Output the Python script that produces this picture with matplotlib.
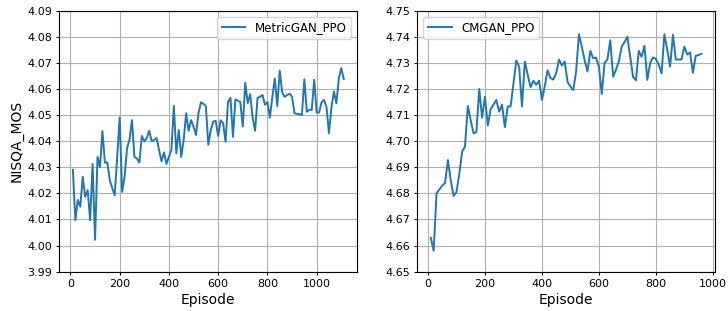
import numpy as np
import matplotlib
matplotlib.use("Agg")
import matplotlib.pyplot as plt

# MetricGAN_PPO (left)
episodes_left = list(range(10, 1111, 10))
nisqa_metricgan = [
    4.0290, 4.0097, 4.0175, 4.0149, 4.0264, 4.0187, 4.0213, 4.0097, 4.0313, 4.0022,
    4.0340, 4.0300, 4.0439, 4.0318, 4.0318, 4.0250, 4.0220, 4.0193, 4.0340, 4.0491,
    4.0206, 4.0264, 4.0373, 4.0406, 4.0481, 4.0340, 4.0334, 4.0318, 4.0420, 4.0399,
    4.0412, 4.0440, 4.0400, 4.0405, 4.0412, 4.0366, 4.0323, 4.0357, 4.0313, 4.0340,
    4.0366, 4.0535, 4.0353, 4.0443, 4.0340, 4.0405, 4.0507, 4.0440, 4.0481, 4.0456,
    4.0424, 4.0507, 4.0549, 4.0543, 4.0535, 4.0386, 4.0443, 4.0475, 4.0478, 4.0420,
    4.0480, 4.0470, 4.0398, 4.0551, 4.0566, 4.0417, 4.0560, 4.0555, 4.0550, 4.0456,
    4.0624, 4.0546, 4.0580, 4.0490, 4.0440, 4.0566, 4.0570, 4.0577, 4.0540, 4.0550,
    4.0490, 4.0570, 4.0640, 4.0535, 4.0670, 4.0587, 4.0570, 4.0577, 4.0582, 4.0570,
    4.0507, 4.0505, 4.0504, 4.0500, 4.0637, 4.0513, 4.0520, 4.0520, 4.0635, 4.0510,
    4.0510, 4.0550, 4.0558, 4.0530, 4.0430, 4.0530, 4.0590, 4.0545, 4.0640, 4.0680,
    4.0638,
]

# CMGAN_PPO (right)
episodes_right = list(range(10, 961, 10))
nisqa_cmgan = [
    4.6630, 4.6580, 4.6800, 4.6815, 4.6830, 4.6840, 4.6928, 4.6850, 4.6790, 4.6805,
    4.6875, 4.6960, 4.6980, 4.7135, 4.7080, 4.7030, 4.7035, 4.7200, 4.7090, 4.7170,
    4.7060, 4.7123, 4.7140, 4.7158, 4.7113, 4.7140, 4.7054, 4.7133, 4.7133, 4.7220,
    4.7309, 4.7286, 4.7133, 4.7305, 4.7255, 4.7207, 4.7232, 4.7216, 4.7232, 4.7158,
    4.7210, 4.7272, 4.7242, 4.7236, 4.7260, 4.7313, 4.7290, 4.7305, 4.7227, 4.7210,
    4.7196, 4.7267, 4.7410, 4.7362, 4.7310, 4.7267, 4.7346, 4.7318, 4.7320, 4.7286,
    4.7181, 4.7300, 4.7313, 4.7387, 4.7247, 4.7274, 4.7305, 4.7362, 4.7380, 4.7400,
    4.7323, 4.7247, 4.7233, 4.7346, 4.7323, 4.7366, 4.7235, 4.7300, 4.7321, 4.7315,
    4.7293, 4.7260, 4.7410, 4.7350, 4.7286, 4.7408, 4.7313, 4.7313, 4.7313, 4.7362,
    4.7332, 4.7340, 4.7262, 4.7327, 4.7330, 4.7335,
]

ylim_left = (3.99, 4.09)
ylim_right = (4.65, 4.75)
xticks = [0, 200, 400, 600, 800, 1000]

fig = plt.figure(figsize=(7.28, 3.11), dpi=100)
ax1 = fig.add_axes([0.0815, 0.1264, 0.4093, 0.8392])
ax2 = fig.add_axes([0.5732, 0.1264, 0.4089, 0.8392])

color = "#1f77b4"
ax1.plot(episodes_left, nisqa_metricgan, color=color, lw=1.4, label="MetricGAN_PPO")
ax2.plot(episodes_right, nisqa_cmgan, color=color, lw=1.4, label="CMGAN_PPO")

for ax, ylim in ((ax1, ylim_left), (ax2, ylim_right)):
    ax.set_ylim(*ylim)
    ax.set_yticks(np.round(np.arange(ylim[0], ylim[1] + 0.0001, 0.01), 2))
    ax.yaxis.set_major_formatter(matplotlib.ticker.FormatStrFormatter("%.2f"))
    ax.set_xticks(xticks)
    ax.grid(True, color="#b0b0b0", lw=0.8)
    ax.tick_params(labelsize=8, length=2.5, pad=2.5, width=0.7)
    for s in ax.spines.values():
        s.set_linewidth(0.8)
    ax.set_xlabel("Episode", fontsize=10, labelpad=3)

ax1.set_ylabel("NISQA_MOS", fontsize=10, labelpad=3)
ax1.legend(loc="upper right", fontsize=8.5)
ax2.legend(loc="upper left", fontsize=8.5)

fig.savefig("out.png", dpi=100)
